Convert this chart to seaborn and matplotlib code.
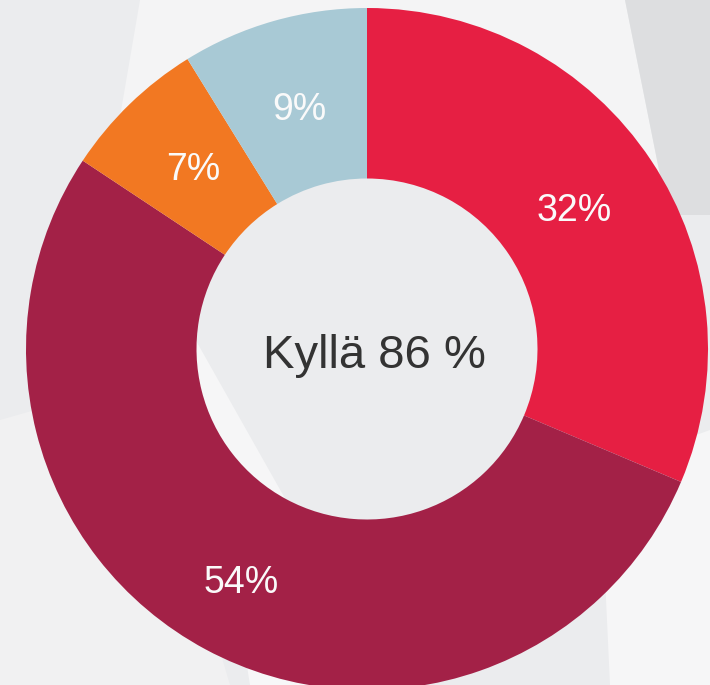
import numpy as np
import matplotlib
matplotlib.use("Agg")
import matplotlib.pyplot as plt
from matplotlib.patches import Polygon
import seaborn as sns

# osuudet (kuvan tekstit)
osuudet = [32, 54, 7, 9]
tekstit = ["32%", "54%", "7%", "9%"]
varit = ["#E61F43", "#A32147", "#F27822", "#A8C9D5"]
keski_teksti = "Kyllä 86 %"

sns.set_theme(style="white")
plt.rcParams['font.family'] = ['Liberation Sans', 'DejaVu Sans']

fig = plt.figure(figsize=(7.1, 6.85), dpi=100, facecolor="#EBECEE")

# taustan vaaleat kuviot
tausta = [
    ([(140, 0), (625, 0), (660, 175), (110, 175)], "#F4F4F5"),
    ([(625, 0), (710, 0), (710, 215), (668, 215)], "#DDDEE0"),
    ([(0, 420), (140, 380), (230, 685), (0, 685)], "#F1F1F2"),
    ([(600, 470), (710, 430), (710, 685), (610, 685)], "#F6F6F7"),
    ([(230, 560), (300, 520), (330, 685), (250, 685)], "#F7F7F8"),
    ([(190, 330), (300, 525), (190, 525)], "#F6F6F7"),
]
for pts, c in tausta:
    p = Polygon([(x / 710, 1 - y / 685) for x, y in pts], closed=True,
                transform=fig.transFigure, facecolor=c, edgecolor="none", zorder=-5)
    fig.patches.append(p)

ax = fig.add_axes([0, 0, 1, 1], zorder=1)
ax.set_facecolor("none")
ax.patch.set_alpha(0)

wedges, texts = ax.pie(osuudet, colors=varit, startangle=90, counterclock=False,
                       radius=1.0, wedgeprops=dict(width=0.5, edgecolor="none"),
                       labels=tekstit, labeldistance=0.73,
                       textprops=dict(color="#FAFAFA", fontsize=27))
for w, t, lab in zip(wedges, texts, tekstit):
    t.set_ha("center")
    t.set_va("center")
    if lab == "54%":
        ang = np.deg2rad((w.theta1 + w.theta2) / 2)
        t.set_position((0.78 * np.cos(ang), 0.78 * np.sin(ang)))

ax.text(0.022, -0.056, keski_teksti, ha="center", va="baseline",
        fontsize=34, color="#333333")

R = 341
ax.set_aspect("auto")
ax.set_xlim(-367 / R, (710 - 367) / R)
ax.set_ylim(-(685 - 349) / R, 349 / R)
ax.axis("off")

fig.savefig("out.png", dpi=100, facecolor=fig.get_facecolor())
